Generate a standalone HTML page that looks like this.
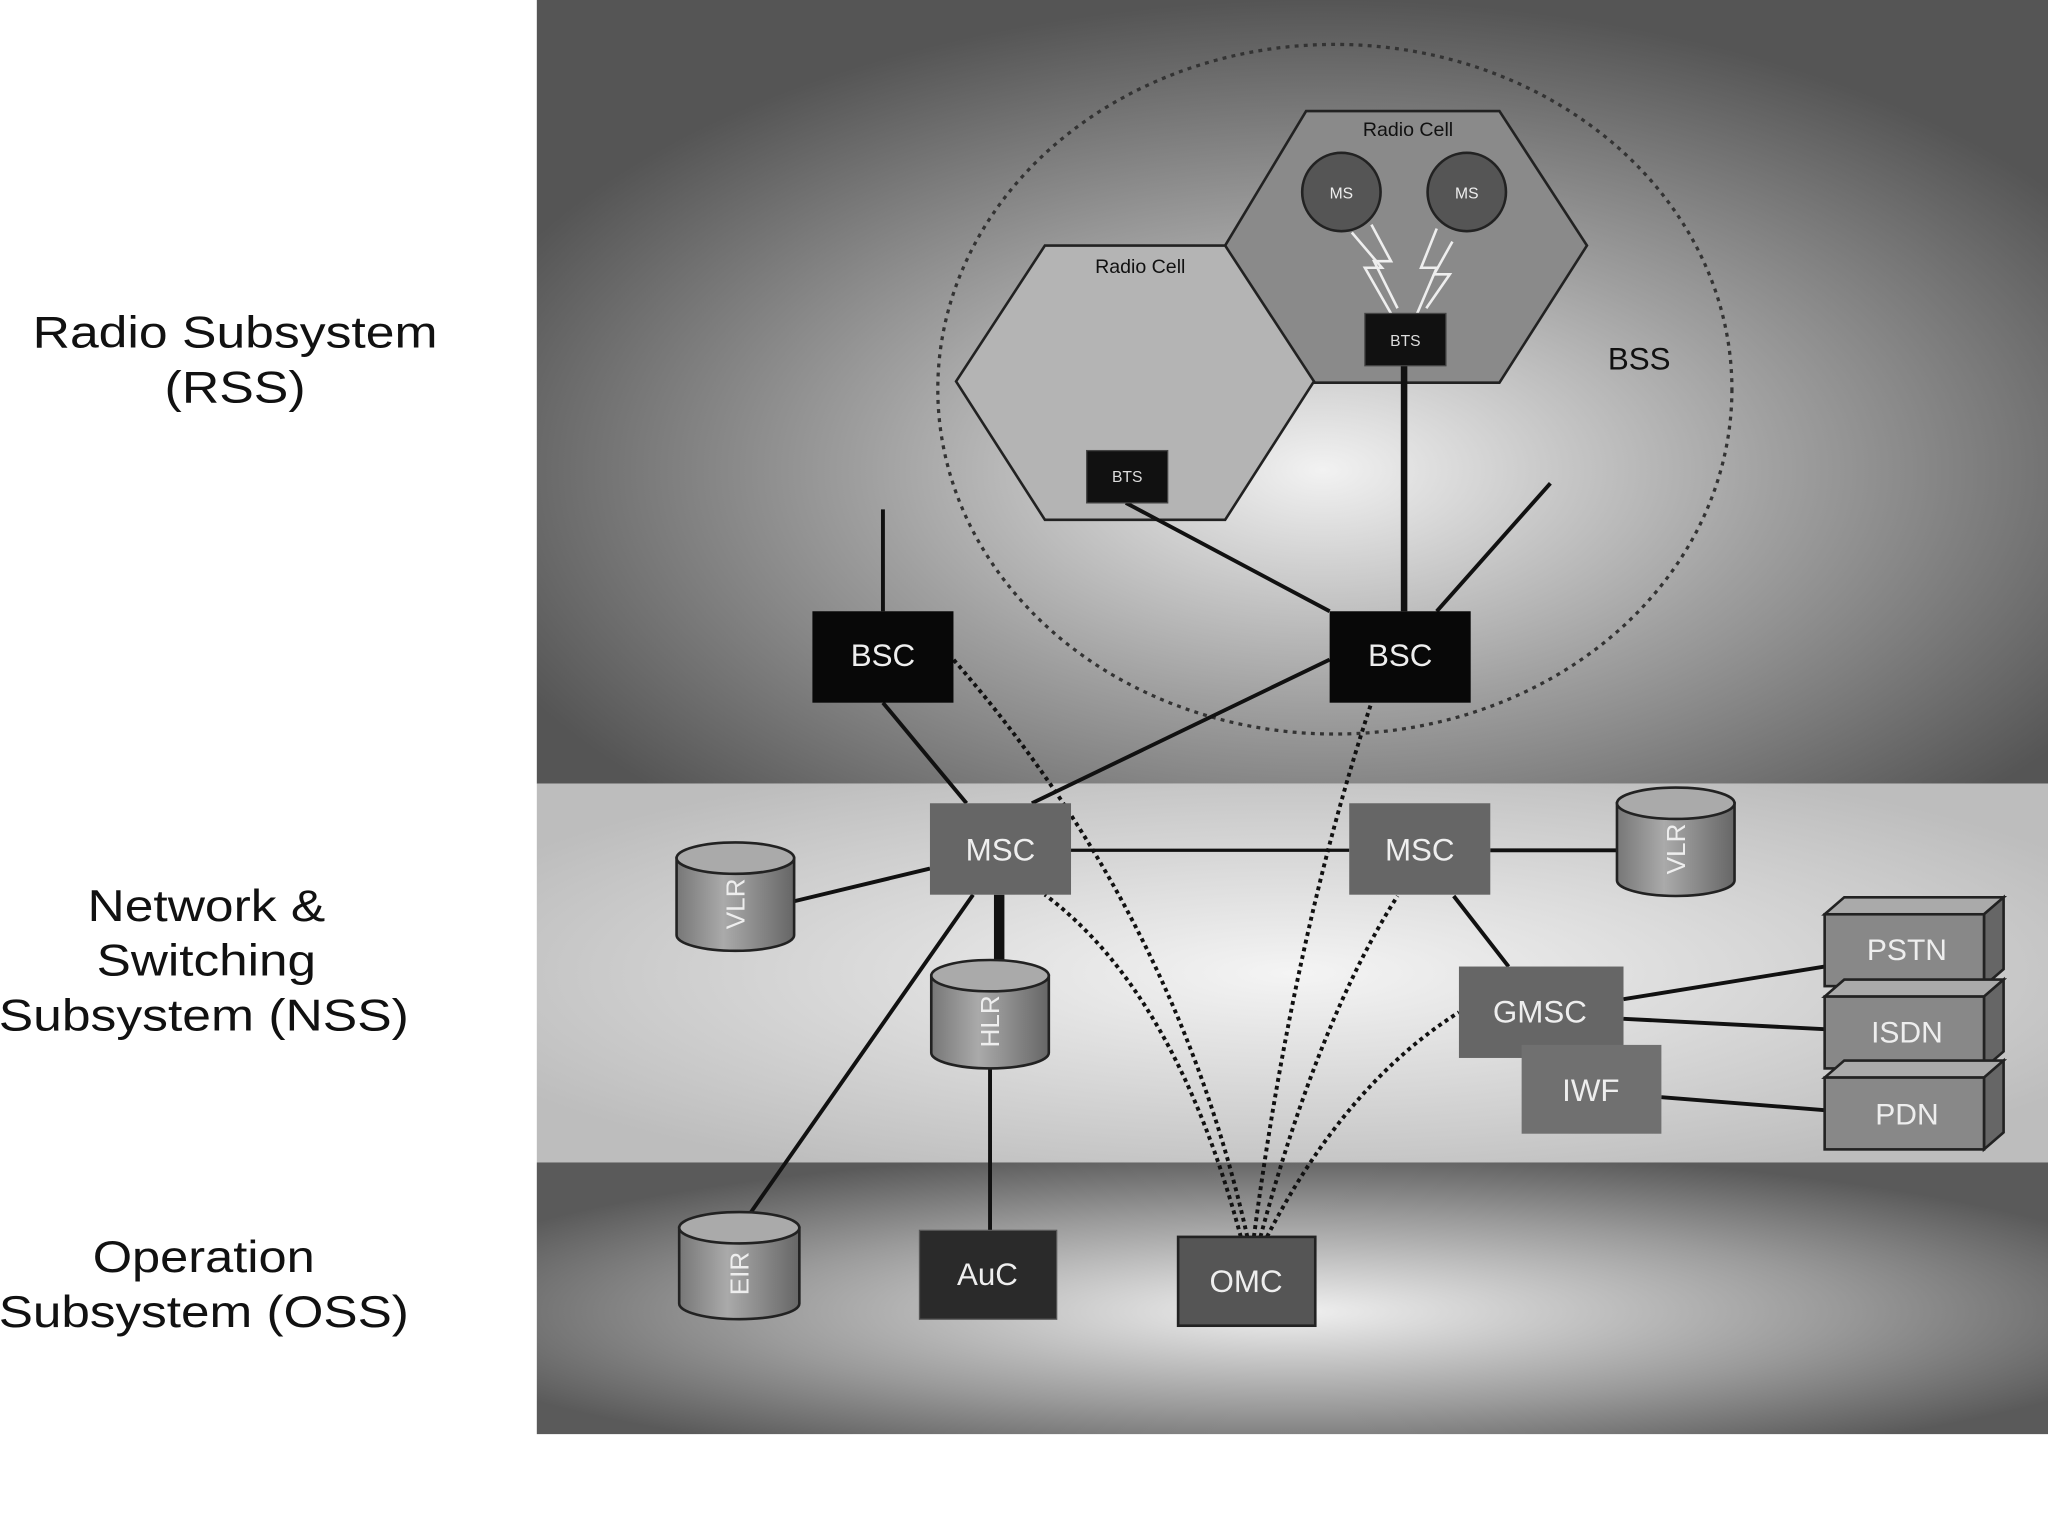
<!DOCTYPE html>
<html><head><meta charset="utf-8"><style>
html,body{margin:0;padding:0;background:#fff;}
svg{display:block;}
text{font-family:"Liberation Sans",sans-serif;}
</style></head><body>
<svg width="2048" height="1536" viewBox="0 0 1568 1176" preserveAspectRatio="none" xmlns="http://www.w3.org/2000/svg">
<defs>
<radialGradient id="g1" cx="0.52" cy="0.6" r="0.6"><stop offset="0" stop-color="#f2f2f2"/><stop offset="0.5" stop-color="#a0a0a0"/><stop offset="1" stop-color="#555"/></radialGradient>
<radialGradient id="g2" cx="0.5" cy="0.5" r="0.6"><stop offset="0" stop-color="#f4f4f4"/><stop offset="1" stop-color="#bdbdbd"/></radialGradient>
<radialGradient id="g3" cx="0.5" cy="0.55" r="0.6"><stop offset="0" stop-color="#f0f0f0"/><stop offset="0.6" stop-color="#9a9a9a"/><stop offset="1" stop-color="#5a5a5a"/></radialGradient>
<linearGradient id="cyl" x1="0" x2="1"><stop offset="0" stop-color="#777"/><stop offset="0.4" stop-color="#aaa"/><stop offset="1" stop-color="#666"/></linearGradient>
</defs>
<rect x="411" y="0" width="1157" height="600" fill="url(#g1)"/>
<rect x="411" y="600" width="1157" height="290" fill="url(#g2)"/>
<rect x="411" y="890" width="1157" height="208" fill="url(#g3)"/>

<g font-size="34" fill="#111" text-anchor="middle">
<text x="180" y="266" textLength="310" lengthAdjust="spacingAndGlyphs">Radio Subsystem</text><text x="180" y="308" textLength="108" lengthAdjust="spacingAndGlyphs">(RSS)</text>
<text x="158" y="705" textLength="182" lengthAdjust="spacingAndGlyphs">Network &amp;</text><text x="158" y="747" textLength="168" lengthAdjust="spacingAndGlyphs">Switching</text><text x="156" y="789" textLength="314" lengthAdjust="spacingAndGlyphs">Subsystem (NSS)</text>
<text x="156" y="974" textLength="170" lengthAdjust="spacingAndGlyphs">Operation</text><text x="156" y="1016" textLength="314" lengthAdjust="spacingAndGlyphs">Subsystem (OSS)</text>
</g>

<ellipse cx="1022" cy="298" rx="304" ry="264" fill="none" stroke="#333" stroke-width="2.5" stroke-dasharray="3 4"/>
<polygon points="1000,85 1148,85 1215,188 1148,293 1000,293 938,188" fill="#8a8a8a" stroke="#222" stroke-width="2"/>
<polygon points="800,188 938,188 1006,292 938,398 800,398 732,292" fill="#b4b4b4" stroke="#222" stroke-width="2"/>
<text x="1078" y="104" font-size="15" text-anchor="middle" fill="#111">Radio Cell</text>
<text x="873" y="209" font-size="15" text-anchor="middle" fill="#111">Radio Cell</text>
<text x="1255" y="283" font-size="24" text-anchor="middle" fill="#111">BSS</text>

<circle cx="1027" cy="147" r="30" fill="#555" stroke="#222" stroke-width="2"/>
<circle cx="1123" cy="147" r="30" fill="#555" stroke="#222" stroke-width="2"/>
<text x="1027" y="152" font-size="12" fill="#eee" text-anchor="middle">MS</text>
<text x="1123" y="152" font-size="12" fill="#eee" text-anchor="middle">MS</text>
<g stroke="#eee" stroke-width="2" fill="none">
<polyline points="1035,178 1058,205 1045,205 1065,240"/><polyline points="1050,172 1065,200 1052,200 1070,236"/>
<polyline points="1100,175 1088,205 1100,205 1085,240"/><polyline points="1112,185 1098,210 1110,210 1092,236"/>
</g>

<g stroke="#111" fill="none">
<line x1="676" y1="390" x2="676" y2="468" stroke-width="3"/>
<line x1="1100" y1="468" x2="1187" y2="370" stroke-width="3"/>
<line x1="1075" y1="280" x2="1075" y2="468" stroke-width="5"/>
<line x1="862" y1="385" x2="1018" y2="468" stroke-width="3"/>
<line x1="676" y1="538" x2="740" y2="615" stroke-width="3"/>
<line x1="1018" y1="505" x2="790" y2="615" stroke-width="3"/>
<line x1="820" y1="651" x2="1033" y2="651" stroke-width="2.5"/>
<line x1="1141" y1="651" x2="1240" y2="651" stroke-width="3"/>
<line x1="608" y1="690" x2="712" y2="665" stroke-width="3"/>
<line x1="765" y1="685" x2="765" y2="738" stroke-width="8"/>
<line x1="575" y1="928" x2="745" y2="685" stroke-width="3"/>
<line x1="758" y1="818" x2="758" y2="942" stroke-width="3"/>
<line x1="1113" y1="686" x2="1155" y2="740" stroke-width="3"/>
<line x1="1243" y1="765" x2="1397" y2="740" stroke-width="3"/>
<line x1="1243" y1="780" x2="1397" y2="788" stroke-width="3"/>
<line x1="1272" y1="840" x2="1397" y2="850" stroke-width="3"/>
</g>
<g stroke="#111" stroke-width="3" stroke-dasharray="3 3" fill="none">
<path d="M955,947 Q900,700 730,505"/>
<path d="M960,947 Q990,720 1050,538"/>
<path d="M950,947 Q900,760 800,685"/>
<path d="M965,947 Q1010,780 1070,686"/>
<path d="M970,947 Q1030,830 1117,775"/>
</g>

<rect x="1045" y="240" width="62" height="40" fill="#111" stroke="#444"/>
<text x="1076" y="265" font-size="12" fill="#ddd" text-anchor="middle">BTS</text>
<rect x="832" y="345" width="62" height="40" fill="#111" stroke="#444"/>
<text x="863" y="369" font-size="12" fill="#ddd" text-anchor="middle">BTS</text>

<g font-size="24" fill="#eee" text-anchor="middle">
<rect x="622" y="468" width="108" height="70" fill="#080808"/><text x="676" y="510">BSC</text>
<rect x="1018" y="468" width="108" height="70" fill="#080808"/><text x="1072" y="510">BSC</text>
<rect x="712" y="615" width="108" height="70" fill="#666"/><text x="766" y="659">MSC</text>
<rect x="1033" y="615" width="108" height="70" fill="#666"/><text x="1087" y="659">MSC</text>
<rect x="704" y="942" width="105" height="68" fill="#2a2a2a" stroke="#555"/><text x="756" y="984">AuC</text>
<rect x="902" y="947" width="105" height="68" fill="#555" stroke="#222" stroke-width="2"/><text x="954" y="989">OMC</text>
<rect x="1117" y="740" width="126" height="70" fill="#666"/><text x="1179" y="783">GMSC</text>
<rect x="1165" y="800" width="107" height="68" fill="#707070"/><text x="1218" y="843">IWF</text>
</g>

<g stroke="#222" stroke-width="2">
<g><polygon points="1397,700 1412,687 1534,687 1519,700" fill="#aaa"/><polygon points="1519,700 1534,687 1534,742 1519,755" fill="#666"/><rect x="1397" y="700" width="122" height="55" fill="#888"/></g>
<g><polygon points="1397,763 1412,750 1534,750 1519,763" fill="#aaa"/><polygon points="1519,763 1534,750 1534,805 1519,818" fill="#666"/><rect x="1397" y="763" width="122" height="55" fill="#888"/></g>
<g><polygon points="1397,825 1412,812 1534,812 1519,825" fill="#aaa"/><polygon points="1519,825 1534,812 1534,867 1519,880" fill="#666"/><rect x="1397" y="825" width="122" height="55" fill="#888"/></g>
</g>
<g font-size="23" fill="#eee" text-anchor="middle">
<text x="1460" y="735">PSTN</text><text x="1460" y="798">ISDN</text><text x="1460" y="861">PDN</text>
</g>

<g stroke="#222" stroke-width="2">
<g><path d="M518,657 L518,716 A45,12 0 0 0 608,716 L608,657 Z" fill="url(#cyl)"/><ellipse cx="563" cy="657" rx="45" ry="12" fill="#aaa"/></g>
<g><path d="M1238,615 L1238,674 A45,12 0 0 0 1328,674 L1328,615 Z" fill="url(#cyl)"/><ellipse cx="1283" cy="615" rx="45" ry="12" fill="#aaa"/></g>
<g><path d="M713,747 L713,806 A45,12 0 0 0 803,806 L803,747 Z" fill="url(#cyl)"/><ellipse cx="758" cy="747" rx="45" ry="12" fill="#aaa"/></g>
<g><path d="M520,940 L520,998 A46,12 0 0 0 612,998 L612,940 Z" fill="url(#cyl)"/><ellipse cx="566" cy="940" rx="46" ry="12" fill="#aaa"/></g>
</g>
<g font-size="20" fill="#eee" text-anchor="middle">
<text transform="translate(570,692) rotate(-90)">VLR</text>
<text transform="translate(1290,650) rotate(-90)">VLR</text>
<text transform="translate(765,782) rotate(-90)">HLR</text>
<text transform="translate(573,975) rotate(-90)">EIR</text>
</g>
</svg>
</body></html>
